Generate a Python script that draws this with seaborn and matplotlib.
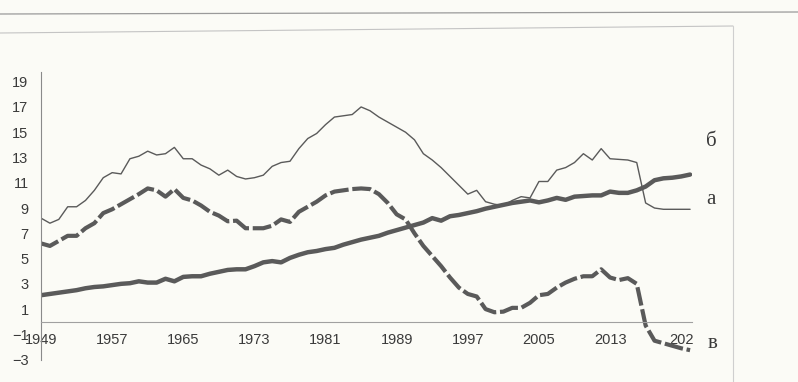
import matplotlib
matplotlib.use("Agg")
import matplotlib.pyplot as plt
from matplotlib.lines import Line2D
import seaborn as sns

# years 1949..2022
years = list(range(1949, 2023))

# а - thick solid line
series_a = [
    2.1, 2.2, 2.3, 2.4, 2.5, 2.65, 2.75, 2.8, 2.9, 3.0,
    3.05, 3.2, 3.1, 3.1, 3.4, 3.2, 3.55, 3.6, 3.6, 3.8,
    3.95, 4.1, 4.15, 4.15, 4.4, 4.7, 4.8, 4.7, 5.05, 5.3,
    5.5, 5.6, 5.75, 5.85, 6.1, 6.3, 6.5, 6.65, 6.8, 7.05,
    7.25, 7.45, 7.65, 7.85, 8.2, 8.0, 8.35, 8.45, 8.6, 8.75,
    8.95, 9.1, 9.25, 9.4, 9.5, 9.6, 9.45, 9.6, 9.8, 9.65,
    9.9, 9.95, 10.0, 10.0, 10.3, 10.2, 10.2, 10.4, 10.7, 11.2,
    11.35, 11.4, 11.5, 11.65,
]

# б - thin solid line
series_b = [
    8.2, 7.8, 8.1, 9.1, 9.1, 9.6, 10.4, 11.4, 11.8, 11.7,
    12.9, 13.1, 13.5, 13.2, 13.3, 13.8, 12.9, 12.9, 12.4, 12.1,
    11.6, 12.0, 11.5, 11.3, 11.4, 11.6, 12.3, 12.6, 12.7, 13.7,
    14.5, 14.9, 15.6, 16.2, 16.3, 16.4, 17.0, 16.7, 16.2, 15.8,
    15.4, 15.0, 14.4, 13.3, 12.8, 12.2, 11.5, 10.8, 10.1, 10.4,
    9.5, 9.3, 9.2, 9.6, 9.9, 9.8, 11.1, 11.1, 12.0, 12.2,
    12.6, 13.3, 12.8, 13.7, 12.9, 12.85, 12.8, 12.6, 9.4, 9.0,
    8.9, 8.9, 8.9, 8.9,
]

# в - thick dashed line
series_v = [
    6.2, 6.0, 6.4, 6.8, 6.8, 7.4, 7.8, 8.6, 8.9, 9.3,
    9.7, 10.1, 10.55, 10.4, 9.9, 10.5, 9.8, 9.6, 9.2, 8.7,
    8.4, 7.95, 8.0, 7.4, 7.4, 7.4, 7.6, 8.1, 7.9, 8.7,
    9.1, 9.5, 10.0, 10.3, 10.4, 10.5, 10.55, 10.5, 10.1, 9.4,
    8.5, 8.1, 7.0, 6.0, 5.2, 4.4, 3.5, 2.7, 2.2, 2.0,
    1.0, 0.75, 0.8, 1.1, 1.1, 1.5, 2.1, 2.2, 2.7, 3.1,
    3.4, 3.6, 3.6, 4.15, 3.5, 3.3, 3.45, 3.0, -0.3, -1.5,
    -1.7, -1.9, -2.1, -2.25,
]

tick_years = [1949, 1957, 1965, 1973, 1981, 1989, 1997, 2005, 2013, 2021]
tick_labels = ["1949", "1957", "1965", "1973", "1981", "1989", "1997", "2005", "2013", "202"]
y_ticks = list(range(-3, 20, 2))

sns.set_style("white")
plt.rcParams["font.family"] = ["Liberation Sans", "DejaVu Sans"]

bg = "#fbfbf6"
line_col = "#5a5a5a"

fig = plt.figure(figsize=(7.98, 3.82), dpi=100, facecolor=bg)
ax = fig.add_axes([0.0514, 0.0585, 0.8156, 0.7525])
ax.set_facecolor(bg)

sns.lineplot(x=years, y=series_b, ax=ax, color=line_col, linewidth=1.0)
sns.lineplot(x=years, y=series_v, ax=ax, color=line_col, linewidth=3.0,
             linestyle=(0, (4.5, 0.9)))
sns.lineplot(x=years, y=series_a, ax=ax, color=line_col, linewidth=3.2)

ax.set_xlim(1949, 2022.2)
ax.set_ylim(-3, 19.75)
ax.set_xticks(tick_years)
ax.set_xticklabels(tick_labels)
ax.set_yticks(y_ticks)

for s in ["top", "right"]:
    ax.spines[s].set_visible(False)
ax.spines["bottom"].set_position(("data", 0))
ax.spines["bottom"].set_color("#a0a0a0")
ax.spines["bottom"].set_linewidth(0.8)
ax.spines["left"].set_color("#8a8a8a")
ax.spines["left"].set_linewidth(0.8)

ax.tick_params(axis="x", direction="out", length=3, width=0.7, color="#a0a0a0",
               pad=5, labelsize=10.5, labelcolor="#3a3a3a")
ax.tick_params(axis="y", direction="out", length=4, width=0.7, color="#8a8a8a",
               pad=5, labelsize=10.5, labelcolor="#3a3a3a")
ax.grid(False)

# series labels
serif = ["Liberation Serif", "DejaVu Serif"]
fig.text(711 / 798, 1 - 142 / 382, "б", family=serif, fontsize=15,
         color="#3a3a3a", ha="center", va="center")
fig.text(711 / 798, 1 - 199 / 382, "а", family=serif, fontsize=15,
         color="#3a3a3a", ha="center", va="center")
fig.text(713 / 798, 1 - 344 / 382, "в", family=serif, fontsize=15,
         color="#3a3a3a", ha="center", va="center")

# scan frame remnants
fig.add_artist(Line2D([0, 733 / 798], [1 - 33 / 382, 1 - 26 / 382],
                      transform=fig.transFigure, color="#c4c4c4", lw=0.8))
fig.add_artist(Line2D([733 / 798, 733 / 798], [1 - 26 / 382, 0],
                      transform=fig.transFigure, color="#cfcfcf", lw=0.8))
fig.add_artist(Line2D([0, 1], [1 - 14 / 382, 1 - 12 / 382],
                      transform=fig.transFigure, color="#9a9a9a", lw=0.9))

fig.savefig("out.png", dpi=100, facecolor=bg)
plt.close(fig)
